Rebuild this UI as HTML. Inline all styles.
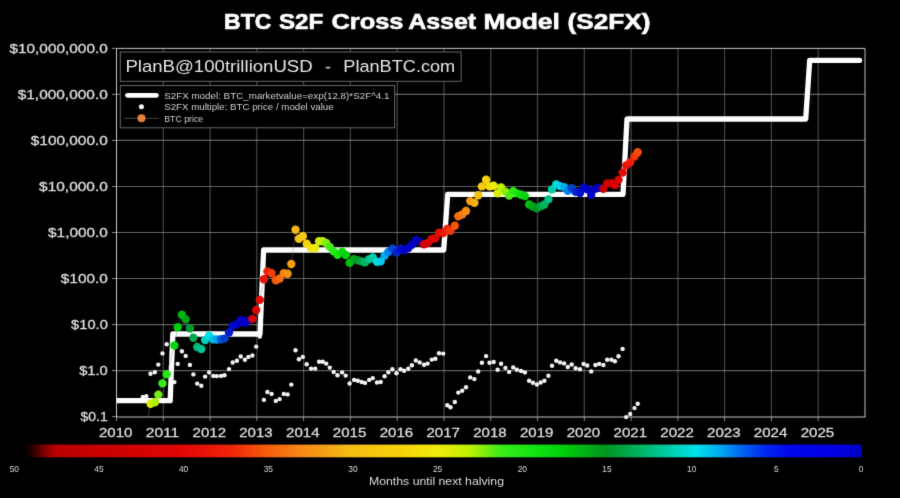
<!DOCTYPE html><html><head><meta charset="utf-8"><style>html,body{margin:0;padding:0;background:#000;}svg{display:block}text{font-family:"Liberation Sans",sans-serif;}</style></head><body>
<svg width="900" height="498" viewBox="0 0 900 498">
<defs><filter id="bl" x="0" y="0" width="1" height="1" color-interpolation-filters="sRGB"><feConvolveMatrix order="3" kernelMatrix="0.018 0.135 0.018 0.135 1 0.135 0.018 0.135 0.018" edgeMode="duplicate" preserveAlpha="true"/></filter><linearGradient id="cb" x1="0" x2="1" y1="0" y2="0">
<stop offset="0.0000" stop-color="#000000"/>
<stop offset="0.0072" stop-color="#190000"/>
<stop offset="0.0167" stop-color="#500000"/>
<stop offset="0.0263" stop-color="#8c0000"/>
<stop offset="0.0382" stop-color="#b90000"/>
<stop offset="0.0907" stop-color="#c80000"/>
<stop offset="0.1862" stop-color="#e10505"/>
<stop offset="0.2458" stop-color="#f0230a"/>
<stop offset="0.2876" stop-color="#f55a0a"/>
<stop offset="0.3234" stop-color="#f58214"/>
<stop offset="0.3592" stop-color="#f5a014"/>
<stop offset="0.3890" stop-color="#f5be14"/>
<stop offset="0.4487" stop-color="#f5d20a"/>
<stop offset="0.4928" stop-color="#f0eb0a"/>
<stop offset="0.5322" stop-color="#bef000"/>
<stop offset="0.5680" stop-color="#3ceb19"/>
<stop offset="0.6038" stop-color="#14e614"/>
<stop offset="0.6456" stop-color="#00cd0a"/>
<stop offset="0.6933" stop-color="#00961e"/>
<stop offset="0.7351" stop-color="#00b464"/>
<stop offset="0.7709" stop-color="#00cdaa"/>
<stop offset="0.8007" stop-color="#00e1eb"/>
<stop offset="0.8305" stop-color="#00aaf0"/>
<stop offset="0.8604" stop-color="#005af0"/>
<stop offset="0.8842" stop-color="#0028f0"/>
<stop offset="0.9141" stop-color="#0005eb"/>
<stop offset="0.9618" stop-color="#0000e4"/>
<stop offset="0.9857" stop-color="#0000d7"/>
<stop offset="1.0000" stop-color="#0000b9"/>
</linearGradient><clipPath id="pc"><rect x="116.5" y="48.4" width="748.5" height="368.2"/></clipPath></defs>
<g filter="url(#bl)"><rect width="900" height="498" fill="#000"/>
<text x="224.10" y="28.8" fill="#fff" stroke="#fff" stroke-width="0.6" font-weight="bold" font-size="21.6" textLength="47.20" lengthAdjust="spacingAndGlyphs">BTC</text>
<text x="278.90" y="28.8" fill="#fff" stroke="#fff" stroke-width="0.6" font-weight="bold" font-size="21.6" textLength="44.30" lengthAdjust="spacingAndGlyphs">S2F</text>
<text x="331.50" y="28.8" fill="#fff" stroke="#fff" stroke-width="0.6" font-weight="bold" font-size="21.6" textLength="72.00" lengthAdjust="spacingAndGlyphs">Cross</text>
<text x="408.20" y="28.8" fill="#fff" stroke="#fff" stroke-width="0.6" font-weight="bold" font-size="21.6" textLength="68.00" lengthAdjust="spacingAndGlyphs">Asset</text>
<text x="483.40" y="28.8" fill="#fff" stroke="#fff" stroke-width="0.6" font-weight="bold" font-size="21.6" textLength="76.60" lengthAdjust="spacingAndGlyphs">Model</text>
<text x="567.50" y="28.8" fill="#fff" stroke="#fff" stroke-width="0.6" font-weight="bold" font-size="21.6" textLength="83.00" lengthAdjust="spacingAndGlyphs">(S2FX)</text>
<path d="M163.3 48.4V416.6M210.1 48.4V416.6M256.8 48.4V416.6M303.6 48.4V416.6M350.4 48.4V416.6M397.2 48.4V416.6M444.0 48.4V416.6M490.7 48.4V416.6M537.5 48.4V416.6M584.3 48.4V416.6M631.1 48.4V416.6M677.9 48.4V416.6M724.6 48.4V416.6M771.4 48.4V416.6M818.2 48.4V416.6" stroke="#8c8c8c" stroke-width="1.2" stroke-dasharray="1.2 0.8" fill="none"/>
<path d="M116.5 370.6H865.0M116.5 324.6H865.0M116.5 278.5H865.0M116.5 232.5H865.0M116.5 186.5H865.0M116.5 140.4H865.0M116.5 94.4H865.0" stroke="#a4a4a4" stroke-width="1.2" stroke-dasharray="1.2 0.8" fill="none"/>
<path d="M112.0 416.6H116.5M112.0 370.6H116.5M112.0 324.6H116.5M112.0 278.5H116.5M112.0 232.5H116.5M112.0 186.5H116.5M112.0 140.4H116.5M112.0 94.4H116.5M112.0 48.4H116.5M116.5 416.6V421.1M163.3 416.6V421.1M210.1 416.6V421.1M256.8 416.6V421.1M303.6 416.6V421.1M350.4 416.6V421.1M397.2 416.6V421.1M444.0 416.6V421.1M490.7 416.6V421.1M537.5 416.6V421.1M584.3 416.6V421.1M631.1 416.6V421.1M677.9 416.6V421.1M724.6 416.6V421.1M771.4 416.6V421.1M818.2 416.6V421.1" stroke="#8a8a8a" stroke-width="1" fill="none"/>
<path d="M116.5 417.0V48.4H865.0V417.0" fill="none" stroke="#c4c4c4" stroke-width="1"/>
<path d="M116.0 417.0H865.5" fill="none" stroke="#c4c4c4" stroke-width="1.2"/>
<text x="107.8" y="421.2" fill="#ddd" stroke="#ddd" stroke-width="0.3" font-size="12.6" text-anchor="end" textLength="27.3" lengthAdjust="spacingAndGlyphs">$0.1</text>
<text x="107.8" y="375.2" fill="#ddd" stroke="#ddd" stroke-width="0.3" font-size="12.6" text-anchor="end" textLength="28.6" lengthAdjust="spacingAndGlyphs">$1.0</text>
<text x="107.8" y="329.2" fill="#ddd" stroke="#ddd" stroke-width="0.3" font-size="12.6" text-anchor="end" textLength="36.7" lengthAdjust="spacingAndGlyphs">$10.0</text>
<text x="107.8" y="283.1" fill="#ddd" stroke="#ddd" stroke-width="0.3" font-size="12.6" text-anchor="end" textLength="47.0" lengthAdjust="spacingAndGlyphs">$100.0</text>
<text x="107.8" y="237.1" fill="#ddd" stroke="#ddd" stroke-width="0.3" font-size="12.6" text-anchor="end" textLength="59.7" lengthAdjust="spacingAndGlyphs">$1,000.0</text>
<text x="107.8" y="191.1" fill="#ddd" stroke="#ddd" stroke-width="0.3" font-size="12.6" text-anchor="end" textLength="68.7" lengthAdjust="spacingAndGlyphs">$10,000.0</text>
<text x="107.8" y="145.0" fill="#ddd" stroke="#ddd" stroke-width="0.3" font-size="12.6" text-anchor="end" textLength="77.0" lengthAdjust="spacingAndGlyphs">$100,000.0</text>
<text x="107.8" y="99.0" fill="#ddd" stroke="#ddd" stroke-width="0.3" font-size="12.6" text-anchor="end" textLength="90.1" lengthAdjust="spacingAndGlyphs">$1,000,000.0</text>
<text x="107.8" y="53.0" fill="#ddd" stroke="#ddd" stroke-width="0.3" font-size="12.6" text-anchor="end" textLength="98.4" lengthAdjust="spacingAndGlyphs">$10,000,000.0</text>
<text x="115.7" y="437.1" fill="#ddd" stroke="#ddd" stroke-width="0.3" font-size="12.8" text-anchor="middle" textLength="33.5" lengthAdjust="spacingAndGlyphs">2010</text>
<text x="162.5" y="437.1" fill="#ddd" stroke="#ddd" stroke-width="0.3" font-size="12.8" text-anchor="middle" textLength="33.5" lengthAdjust="spacingAndGlyphs">2011</text>
<text x="209.3" y="437.1" fill="#ddd" stroke="#ddd" stroke-width="0.3" font-size="12.8" text-anchor="middle" textLength="33.5" lengthAdjust="spacingAndGlyphs">2012</text>
<text x="256.0" y="437.1" fill="#ddd" stroke="#ddd" stroke-width="0.3" font-size="12.8" text-anchor="middle" textLength="33.5" lengthAdjust="spacingAndGlyphs">2013</text>
<text x="302.8" y="437.1" fill="#ddd" stroke="#ddd" stroke-width="0.3" font-size="12.8" text-anchor="middle" textLength="33.5" lengthAdjust="spacingAndGlyphs">2014</text>
<text x="349.6" y="437.1" fill="#ddd" stroke="#ddd" stroke-width="0.3" font-size="12.8" text-anchor="middle" textLength="33.5" lengthAdjust="spacingAndGlyphs">2015</text>
<text x="396.4" y="437.1" fill="#ddd" stroke="#ddd" stroke-width="0.3" font-size="12.8" text-anchor="middle" textLength="33.5" lengthAdjust="spacingAndGlyphs">2016</text>
<text x="443.2" y="437.1" fill="#ddd" stroke="#ddd" stroke-width="0.3" font-size="12.8" text-anchor="middle" textLength="33.5" lengthAdjust="spacingAndGlyphs">2017</text>
<text x="489.9" y="437.1" fill="#ddd" stroke="#ddd" stroke-width="0.3" font-size="12.8" text-anchor="middle" textLength="33.5" lengthAdjust="spacingAndGlyphs">2018</text>
<text x="536.7" y="437.1" fill="#ddd" stroke="#ddd" stroke-width="0.3" font-size="12.8" text-anchor="middle" textLength="33.5" lengthAdjust="spacingAndGlyphs">2019</text>
<text x="583.5" y="437.1" fill="#ddd" stroke="#ddd" stroke-width="0.3" font-size="12.8" text-anchor="middle" textLength="33.5" lengthAdjust="spacingAndGlyphs">2020</text>
<text x="630.3" y="437.1" fill="#ddd" stroke="#ddd" stroke-width="0.3" font-size="12.8" text-anchor="middle" textLength="33.5" lengthAdjust="spacingAndGlyphs">2021</text>
<text x="677.1" y="437.1" fill="#ddd" stroke="#ddd" stroke-width="0.3" font-size="12.8" text-anchor="middle" textLength="33.5" lengthAdjust="spacingAndGlyphs">2022</text>
<text x="723.8" y="437.1" fill="#ddd" stroke="#ddd" stroke-width="0.3" font-size="12.8" text-anchor="middle" textLength="33.5" lengthAdjust="spacingAndGlyphs">2023</text>
<text x="770.6" y="437.1" fill="#ddd" stroke="#ddd" stroke-width="0.3" font-size="12.8" text-anchor="middle" textLength="33.5" lengthAdjust="spacingAndGlyphs">2024</text>
<text x="817.4" y="437.1" fill="#ddd" stroke="#ddd" stroke-width="0.3" font-size="12.8" text-anchor="middle" textLength="33.5" lengthAdjust="spacingAndGlyphs">2025</text>
<g fill="#f4f4f4"><circle cx="142.8" cy="396.9" r="2.2"/><circle cx="146.3" cy="396.2" r="2.2"/><circle cx="150.5" cy="373.7" r="2.2"/><circle cx="154.8" cy="372.3" r="2.2"/><circle cx="158.3" cy="364.6" r="2.2"/><circle cx="162.5" cy="353.4" r="2.2"/><circle cx="166.7" cy="344.2" r="2.2"/><circle cx="174.4" cy="382.1" r="2.2"/><circle cx="177.7" cy="363.9" r="2.2"/><circle cx="181.9" cy="351.3" r="2.2"/><circle cx="185.7" cy="355.9" r="2.2"/><circle cx="189.9" cy="364.9" r="2.2"/><circle cx="193.4" cy="374.4" r="2.2"/><circle cx="197.2" cy="383.6" r="2.2"/><circle cx="201.3" cy="385.7" r="2.2"/><circle cx="205.1" cy="376.6" r="2.2"/><circle cx="209.1" cy="372.4" r="2.2"/><circle cx="213.3" cy="375.9" r="2.2"/><circle cx="216.8" cy="376.1" r="2.2"/><circle cx="221.0" cy="375.9" r="2.2"/><circle cx="224.5" cy="375.2" r="2.2"/><circle cx="229.0" cy="369.1" r="2.2"/><circle cx="232.7" cy="362.5" r="2.2"/><circle cx="236.9" cy="360.7" r="2.2"/><circle cx="240.7" cy="356.5" r="2.2"/><circle cx="244.9" cy="359.7" r="2.2"/><circle cx="248.4" cy="356.9" r="2.2"/><circle cx="252.4" cy="355.5" r="2.2"/><circle cx="256.2" cy="346.6" r="2.2"/><circle cx="259.8" cy="336.5" r="2.2"/><circle cx="263.9" cy="399.9" r="2.2"/><circle cx="267.4" cy="392.0" r="2.2"/><circle cx="271.6" cy="393.9" r="2.2"/><circle cx="275.8" cy="400.9" r="2.2"/><circle cx="279.6" cy="399.1" r="2.2"/><circle cx="283.8" cy="393.9" r="2.2"/><circle cx="287.6" cy="394.4" r="2.2"/><circle cx="291.3" cy="384.6" r="2.2"/><circle cx="295.5" cy="350.3" r="2.2"/><circle cx="298.9" cy="359.3" r="2.2"/><circle cx="302.8" cy="356.9" r="2.2"/><circle cx="306.7" cy="364.3" r="2.2"/><circle cx="311.0" cy="368.6" r="2.2"/><circle cx="315.2" cy="368.6" r="2.2"/><circle cx="319.1" cy="361.8" r="2.2"/><circle cx="322.7" cy="361.8" r="2.2"/><circle cx="326.2" cy="363.6" r="2.2"/><circle cx="329.8" cy="367.6" r="2.2"/><circle cx="333.7" cy="372.0" r="2.2"/><circle cx="337.5" cy="375.3" r="2.2"/><circle cx="342.1" cy="372.4" r="2.2"/><circle cx="345.7" cy="375.6" r="2.2"/><circle cx="349.6" cy="383.5" r="2.2"/><circle cx="354.1" cy="379.9" r="2.2"/><circle cx="357.8" cy="380.8" r="2.2"/><circle cx="361.6" cy="382.0" r="2.2"/><circle cx="365.0" cy="382.9" r="2.2"/><circle cx="369.2" cy="379.9" r="2.2"/><circle cx="372.8" cy="378.1" r="2.2"/><circle cx="377.0" cy="382.5" r="2.2"/><circle cx="380.7" cy="382.0" r="2.2"/><circle cx="384.6" cy="376.2" r="2.2"/><circle cx="388.4" cy="372.3" r="2.2"/><circle cx="392.4" cy="369.3" r="2.2"/><circle cx="396.5" cy="373.2" r="2.2"/><circle cx="400.5" cy="369.3" r="2.2"/><circle cx="404.1" cy="370.8" r="2.2"/><circle cx="408.3" cy="368.7" r="2.2"/><circle cx="411.9" cy="365.3" r="2.2"/><circle cx="415.8" cy="360.5" r="2.2"/><circle cx="419.7" cy="362.4" r="2.2"/><circle cx="424.0" cy="364.8" r="2.2"/><circle cx="427.6" cy="363.6" r="2.2"/><circle cx="431.8" cy="359.6" r="2.2"/><circle cx="435.4" cy="358.8" r="2.2"/><circle cx="439.0" cy="353.2" r="2.2"/><circle cx="443.2" cy="353.6" r="2.2"/><circle cx="447.3" cy="405.3" r="2.2"/><circle cx="450.5" cy="407.2" r="2.2"/><circle cx="454.8" cy="402.0" r="2.2"/><circle cx="458.3" cy="392.6" r="2.2"/><circle cx="462.2" cy="390.8" r="2.2"/><circle cx="466.0" cy="387.3" r="2.2"/><circle cx="470.2" cy="377.4" r="2.2"/><circle cx="474.4" cy="379.1" r="2.2"/><circle cx="478.2" cy="371.5" r="2.2"/><circle cx="481.9" cy="362.7" r="2.2"/><circle cx="486.1" cy="356.1" r="2.2"/><circle cx="489.5" cy="362.7" r="2.2"/><circle cx="493.7" cy="362.0" r="2.2"/><circle cx="497.6" cy="369.7" r="2.2"/><circle cx="501.1" cy="363.7" r="2.2"/><circle cx="505.4" cy="367.9" r="2.2"/><circle cx="509.1" cy="371.9" r="2.2"/><circle cx="513.2" cy="367.4" r="2.2"/><circle cx="516.9" cy="369.7" r="2.2"/><circle cx="521.1" cy="371.0" r="2.2"/><circle cx="524.9" cy="372.4" r="2.2"/><circle cx="529.1" cy="380.8" r="2.2"/><circle cx="532.9" cy="382.8" r="2.2"/><circle cx="536.9" cy="384.5" r="2.2"/><circle cx="540.7" cy="382.5" r="2.2"/><circle cx="544.4" cy="380.8" r="2.2"/><circle cx="548.4" cy="375.7" r="2.2"/><circle cx="552.0" cy="365.7" r="2.2"/><circle cx="556.2" cy="360.7" r="2.2"/><circle cx="560.0" cy="362.4" r="2.2"/><circle cx="564.1" cy="363.4" r="2.2"/><circle cx="567.8" cy="367.0" r="2.2"/><circle cx="571.7" cy="364.5" r="2.2"/><circle cx="575.6" cy="368.2" r="2.2"/><circle cx="580.0" cy="369.3" r="2.2"/><circle cx="583.6" cy="363.9" r="2.2"/><circle cx="587.3" cy="365.5" r="2.2"/><circle cx="591.2" cy="371.4" r="2.2"/><circle cx="595.4" cy="365.0" r="2.2"/><circle cx="599.2" cy="363.9" r="2.2"/><circle cx="603.4" cy="365.0" r="2.2"/><circle cx="607.2" cy="359.7" r="2.2"/><circle cx="611.4" cy="359.7" r="2.2"/><circle cx="614.9" cy="361.3" r="2.2"/><circle cx="618.5" cy="356.2" r="2.2"/><circle cx="622.6" cy="348.9" r="2.2"/><circle cx="626.2" cy="417.1" r="2.2"/><circle cx="630.2" cy="413.9" r="2.2"/><circle cx="634.5" cy="408.1" r="2.2"/><circle cx="637.7" cy="403.8" r="2.2"/></g>
<g clip-path="url(#pc)">
<polyline points="116.5,400.6 170.2,400.6 172.8,334.0 260.0,334.0 263.6,250.0 443.7,250.0 447.7,194.3 623.0,194.3 627.0,119.0 805.7,119.0 809.7,60.3 859.6,60.3" fill="none" stroke="#fff" stroke-width="5.3" stroke-linejoin="round" stroke-linecap="round"/>
<polyline points="142.8,426.9 146.3,426.2 150.5,403.7 154.8,402.3 158.3,394.6 162.5,383.4 166.7,374.2 174.4,345.5 177.7,327.3 181.9,314.7 185.7,319.3 189.9,328.3 193.4,337.8 197.2,347.0 201.3,349.1 205.1,340.0 209.1,335.8 213.3,339.3 216.8,339.5 221.0,339.3 224.5,338.6 229.0,332.5 232.7,325.9 236.9,324.1 240.7,319.9 244.9,323.1 248.4,320.3 252.4,318.9 256.2,310.0 259.8,299.9 263.9,279.3 267.4,271.4 271.6,273.3 275.8,280.3 279.6,278.5 283.8,273.3 287.6,273.8 291.3,264.0 295.5,229.7 298.9,238.7 302.8,236.3 306.7,243.7 311.0,248.0 315.2,248.0 319.1,241.2 322.7,241.2 326.2,243.0 329.8,247.0 333.7,251.4 337.5,254.7 342.1,251.8 345.7,255.0 349.6,262.9 354.1,259.3 357.8,260.2 361.6,261.4 365.0,262.3 369.2,259.3 372.8,257.5 377.0,261.9 380.7,261.4 384.6,255.6 388.4,251.7 392.4,248.7 396.5,252.6 400.5,248.7 404.1,250.2 408.3,248.1 411.9,244.7 415.8,239.9 419.7,241.8 424.0,244.2 427.6,243.0 431.8,239.0 435.4,238.2 439.0,232.6 443.2,233.0 447.3,229.0 450.5,230.9 454.8,225.7 458.3,216.3 462.2,214.5 466.0,211.0 470.2,201.1 474.4,202.8 478.2,195.2 481.9,186.4 486.1,179.8 489.5,186.4 493.7,185.7 497.6,193.4 501.1,187.4 505.4,191.6 509.1,195.6 513.2,191.1 516.9,193.4 521.1,194.7 524.9,196.1 529.1,204.5 532.9,206.5 536.9,208.2 540.7,206.2 544.4,204.5 548.4,199.4 552.0,189.4 556.2,184.4 560.0,186.1 564.1,187.1 567.8,190.7 571.7,188.2 575.6,191.9 580.0,193.0 583.6,187.6 587.3,189.2 591.2,195.1 595.4,188.7 599.2,187.6 603.4,188.7 607.2,183.4 611.4,183.4 614.9,185.0 618.5,179.9 622.6,172.6 626.2,165.5 630.2,162.3 634.5,156.5 637.7,152.2" fill="none" stroke="#777" stroke-opacity="0.5" stroke-width="0.8"/>
<g><circle cx="150.5" cy="403.7" r="4.2" fill="#d2ee04"/><circle cx="154.8" cy="402.3" r="4.2" fill="#afef03"/><circle cx="158.3" cy="394.6" r="4.2" fill="#74ed0e"/><circle cx="162.5" cy="383.4" r="4.2" fill="#38ea18"/><circle cx="166.7" cy="374.2" r="4.2" fill="#22e816"/><circle cx="174.4" cy="345.5" r="4.2" fill="#09d80e"/><circle cx="177.7" cy="327.3" r="4.2" fill="#01ce0a"/><circle cx="181.9" cy="314.7" r="4.2" fill="#00b712"/><circle cx="185.7" cy="319.3" r="4.2" fill="#00a21a"/><circle cx="189.9" cy="328.3" r="4.2" fill="#009d2f"/><circle cx="193.4" cy="337.8" r="4.2" fill="#00aa4c"/><circle cx="197.2" cy="347.0" r="4.2" fill="#00b76c"/><circle cx="201.3" cy="349.1" r="4.2" fill="#00c593"/><circle cx="205.1" cy="340.0" r="4.2" fill="#00d2b9"/><circle cx="209.1" cy="335.8" r="4.2" fill="#00dfe4"/><circle cx="213.3" cy="339.3" r="4.2" fill="#00c3ee"/><circle cx="216.8" cy="339.5" r="4.2" fill="#00a3f0"/><circle cx="221.0" cy="339.3" r="4.2" fill="#005ece"/><circle cx="224.5" cy="338.6" r="4.2" fill="#003dce"/><circle cx="229.0" cy="332.5" r="4.2" fill="#001ccd"/><circle cx="232.7" cy="325.9" r="4.2" fill="#000bca"/><circle cx="236.9" cy="324.1" r="4.2" fill="#0003c8"/><circle cx="240.7" cy="319.9" r="4.2" fill="#0001c6"/><circle cx="244.9" cy="323.1" r="4.2" fill="#0000c3"/><circle cx="248.4" cy="320.3" r="4.2" fill="#0000bb"/><circle cx="252.4" cy="318.9" r="4.2" fill="#da0404"/><circle cx="256.2" cy="310.0" r="4.2" fill="#df0505"/><circle cx="259.8" cy="299.9" r="4.2" fill="#e40c06"/><circle cx="263.9" cy="279.3" r="4.2" fill="#ea1708"/><circle cx="267.4" cy="271.4" r="4.2" fill="#ef220a"/><circle cx="271.6" cy="273.3" r="4.2" fill="#f23e0a"/><circle cx="275.8" cy="280.3" r="4.2" fill="#f5580a"/><circle cx="279.6" cy="278.5" r="4.2" fill="#f56c0e"/><circle cx="283.8" cy="273.3" r="4.2" fill="#f58214"/><circle cx="287.6" cy="273.8" r="4.2" fill="#f59114"/><circle cx="291.3" cy="264.0" r="4.2" fill="#f59f14"/><circle cx="295.5" cy="229.7" r="4.2" fill="#f5b614"/><circle cx="298.9" cy="238.7" r="4.2" fill="#f5c212"/><circle cx="302.8" cy="236.3" r="4.2" fill="#f5ca0e"/><circle cx="306.7" cy="243.7" r="4.2" fill="#f5d30a"/><circle cx="311.0" cy="248.0" r="4.2" fill="#f2e20a"/><circle cx="315.2" cy="248.0" r="4.2" fill="#eaec09"/><circle cx="319.1" cy="241.2" r="4.2" fill="#d3ee04"/><circle cx="322.7" cy="241.2" r="4.2" fill="#bef000"/><circle cx="326.2" cy="243.0" r="4.2" fill="#84ee0b"/><circle cx="329.8" cy="247.0" r="4.2" fill="#48eb17"/><circle cx="333.7" cy="251.4" r="4.2" fill="#2ce917"/><circle cx="337.5" cy="254.7" r="4.2" fill="#18e715"/><circle cx="342.1" cy="251.8" r="4.2" fill="#0bdb10"/><circle cx="345.7" cy="255.0" r="4.2" fill="#03d10b"/><circle cx="349.6" cy="262.9" r="4.2" fill="#00be0f"/><circle cx="354.1" cy="259.3" r="4.2" fill="#00a519"/><circle cx="357.8" cy="260.2" r="4.2" fill="#009a27"/><circle cx="361.6" cy="261.4" r="4.2" fill="#00a746"/><circle cx="365.0" cy="262.3" r="4.2" fill="#00b362"/><circle cx="369.2" cy="259.3" r="4.2" fill="#00c28a"/><circle cx="372.8" cy="257.5" r="4.2" fill="#00cead"/><circle cx="377.0" cy="261.9" r="4.2" fill="#00dcda"/><circle cx="380.7" cy="261.4" r="4.2" fill="#00cfed"/><circle cx="384.6" cy="255.6" r="4.2" fill="#00aef0"/><circle cx="388.4" cy="251.7" r="4.2" fill="#0081f0"/><circle cx="392.4" cy="248.7" r="4.2" fill="#0045ce"/><circle cx="396.5" cy="252.6" r="4.2" fill="#0023ce"/><circle cx="400.5" cy="248.7" r="4.2" fill="#0010cb"/><circle cx="404.1" cy="250.2" r="4.2" fill="#0004c9"/><circle cx="408.3" cy="248.1" r="4.2" fill="#0002c7"/><circle cx="411.9" cy="244.7" r="4.2" fill="#0000c4"/><circle cx="415.8" cy="239.9" r="4.2" fill="#0000be"/><circle cx="419.7" cy="241.8" r="4.2" fill="#0000b0"/><circle cx="424.0" cy="244.2" r="4.2" fill="#ce0101"/><circle cx="427.6" cy="243.0" r="4.2" fill="#d30202"/><circle cx="431.8" cy="239.0" r="4.2" fill="#da0404"/><circle cx="435.4" cy="238.2" r="4.2" fill="#df0505"/><circle cx="439.0" cy="232.6" r="4.2" fill="#e40b06"/><circle cx="443.2" cy="233.0" r="4.2" fill="#ea1608"/><circle cx="447.3" cy="229.0" r="4.2" fill="#f0220a"/><circle cx="450.5" cy="230.9" r="4.2" fill="#f2390a"/><circle cx="454.8" cy="225.7" r="4.2" fill="#f4540a"/><circle cx="458.3" cy="216.3" r="4.2" fill="#f5670d"/><circle cx="462.2" cy="214.5" r="4.2" fill="#f57b12"/><circle cx="466.0" cy="211.0" r="4.2" fill="#f58c14"/><circle cx="470.2" cy="201.1" r="4.2" fill="#f59c14"/><circle cx="474.4" cy="202.8" r="4.2" fill="#f5b214"/><circle cx="478.2" cy="195.2" r="4.2" fill="#f5c212"/><circle cx="481.9" cy="186.4" r="4.2" fill="#f5c90e"/><circle cx="486.1" cy="179.8" r="4.2" fill="#f5d20a"/><circle cx="489.5" cy="186.4" r="4.2" fill="#f3de0a"/><circle cx="493.7" cy="185.7" r="4.2" fill="#f0eb0a"/><circle cx="497.6" cy="193.4" r="4.2" fill="#daed06"/><circle cx="501.1" cy="187.4" r="4.2" fill="#c5ef01"/><circle cx="505.4" cy="191.6" r="4.2" fill="#8cee0a"/><circle cx="509.1" cy="195.6" r="4.2" fill="#4eec16"/><circle cx="513.2" cy="191.1" r="4.2" fill="#2de917"/><circle cx="516.9" cy="193.4" r="4.2" fill="#1ae715"/><circle cx="521.1" cy="194.7" r="4.2" fill="#0ddd10"/><circle cx="524.9" cy="196.1" r="4.2" fill="#04d20c"/><circle cx="529.1" cy="204.5" r="4.2" fill="#00bf0f"/><circle cx="532.9" cy="206.5" r="4.2" fill="#00a917"/><circle cx="536.9" cy="208.2" r="4.2" fill="#009823"/><circle cx="540.7" cy="206.2" r="4.2" fill="#00a542"/><circle cx="544.4" cy="204.5" r="4.2" fill="#00b260"/><circle cx="548.4" cy="199.4" r="4.2" fill="#00c086"/><circle cx="552.0" cy="189.4" r="4.2" fill="#00cca8"/><circle cx="556.2" cy="184.4" r="4.2" fill="#00dad5"/><circle cx="560.0" cy="186.1" r="4.2" fill="#00d2ec"/><circle cx="564.1" cy="187.1" r="4.2" fill="#00aff0"/><circle cx="567.8" cy="190.7" r="4.2" fill="#0084f0"/><circle cx="571.7" cy="188.2" r="4.2" fill="#0048ce"/><circle cx="575.6" cy="191.9" r="4.2" fill="#0027ce"/><circle cx="580.0" cy="193.0" r="4.2" fill="#0011cb"/><circle cx="583.6" cy="187.6" r="4.2" fill="#0004c9"/><circle cx="587.3" cy="189.2" r="4.2" fill="#0002c7"/><circle cx="591.2" cy="195.1" r="4.2" fill="#0000c4"/><circle cx="595.4" cy="188.7" r="4.2" fill="#0000be"/><circle cx="599.2" cy="187.6" r="4.2" fill="#0000b1"/><circle cx="603.4" cy="188.7" r="4.2" fill="#ca0000"/><circle cx="607.2" cy="183.4" r="4.2" fill="#cd0101"/><circle cx="611.4" cy="183.4" r="4.2" fill="#d30202"/><circle cx="614.9" cy="185.0" r="4.2" fill="#d80303"/><circle cx="618.5" cy="179.9" r="4.2" fill="#dd0404"/><circle cx="622.6" cy="172.6" r="4.2" fill="#e30906"/><circle cx="626.2" cy="165.5" r="4.2" fill="#e81307"/><circle cx="630.2" cy="162.3" r="4.2" fill="#ee1e09"/><circle cx="634.5" cy="156.5" r="4.2" fill="#f2370a"/><circle cx="637.7" cy="152.2" r="4.2" fill="#f44b0a"/></g>
</g>
<rect x="120.3" y="52.0" width="340.8" height="29.3" fill="#000" stroke="#666" stroke-width="1"/>
<text x="125.4" y="72.2" fill="#e6e6e6" font-size="17.2" textLength="187.3" lengthAdjust="spacingAndGlyphs">PlanB@100trillionUSD</text>
<text x="325.0" y="72.2" fill="#e6e6e6" font-size="17.2" textLength="6" lengthAdjust="spacingAndGlyphs">-</text>
<text x="343.3" y="72.2" fill="#e6e6e6" font-size="17.2" textLength="111.9" lengthAdjust="spacingAndGlyphs">PlanBTC.com</text>
<rect x="120.3" y="85.5" width="274.3" height="42.3" fill="#000" stroke="#666" stroke-width="1"/>
<line x1="127.5" y1="95.3" x2="156.4" y2="95.3" stroke="#fff" stroke-width="4.8" stroke-linecap="round"/>
<circle cx="141.4" cy="106.8" r="2.5" fill="#fff"/>
<line x1="124" y1="118.3" x2="159" y2="118.3" stroke="#555" stroke-width="0.8"/>
<circle cx="141.5" cy="118.2" r="4" fill="#e8803a"/>
<text x="164.2" y="98.6" fill="#cfcfcf" font-size="8.6" textLength="225.2" lengthAdjust="spacingAndGlyphs">S2FX model: BTC_marketvalue=exp(12.8)*S2F^4.1</text>
<text x="164.2" y="110.2" fill="#cfcfcf" font-size="8.6" textLength="169.5" lengthAdjust="spacingAndGlyphs">S2FX multiple: BTC price / model value</text>
<text x="164.2" y="121.8" fill="#cfcfcf" font-size="8.6" textLength="39" lengthAdjust="spacingAndGlyphs">BTC price</text>
<rect x="24" y="444.6" width="838" height="12.7" fill="url(#cb)"/>
<text x="14.3" y="472" fill="#ddd" font-size="8.4" text-anchor="middle">50</text>
<text x="99.0" y="472" fill="#ddd" font-size="8.4" text-anchor="middle">45</text>
<text x="183.6" y="472" fill="#ddd" font-size="8.4" text-anchor="middle">40</text>
<text x="268.3" y="472" fill="#ddd" font-size="8.4" text-anchor="middle">35</text>
<text x="353.0" y="472" fill="#ddd" font-size="8.4" text-anchor="middle">30</text>
<text x="437.6" y="472" fill="#ddd" font-size="8.4" text-anchor="middle">25</text>
<text x="522.3" y="472" fill="#ddd" font-size="8.4" text-anchor="middle">20</text>
<text x="607.0" y="472" fill="#ddd" font-size="8.4" text-anchor="middle">15</text>
<text x="691.7" y="472" fill="#ddd" font-size="8.4" text-anchor="middle">10</text>
<text x="776.3" y="472" fill="#ddd" font-size="8.4" text-anchor="middle">5</text>
<text x="861.0" y="472" fill="#ddd" font-size="8.4" text-anchor="middle">0</text>
<text x="436.5" y="485.2" fill="#ddd" font-size="11" text-anchor="middle" textLength="135" lengthAdjust="spacingAndGlyphs">Months until next halving</text>
</g></svg></body></html>
